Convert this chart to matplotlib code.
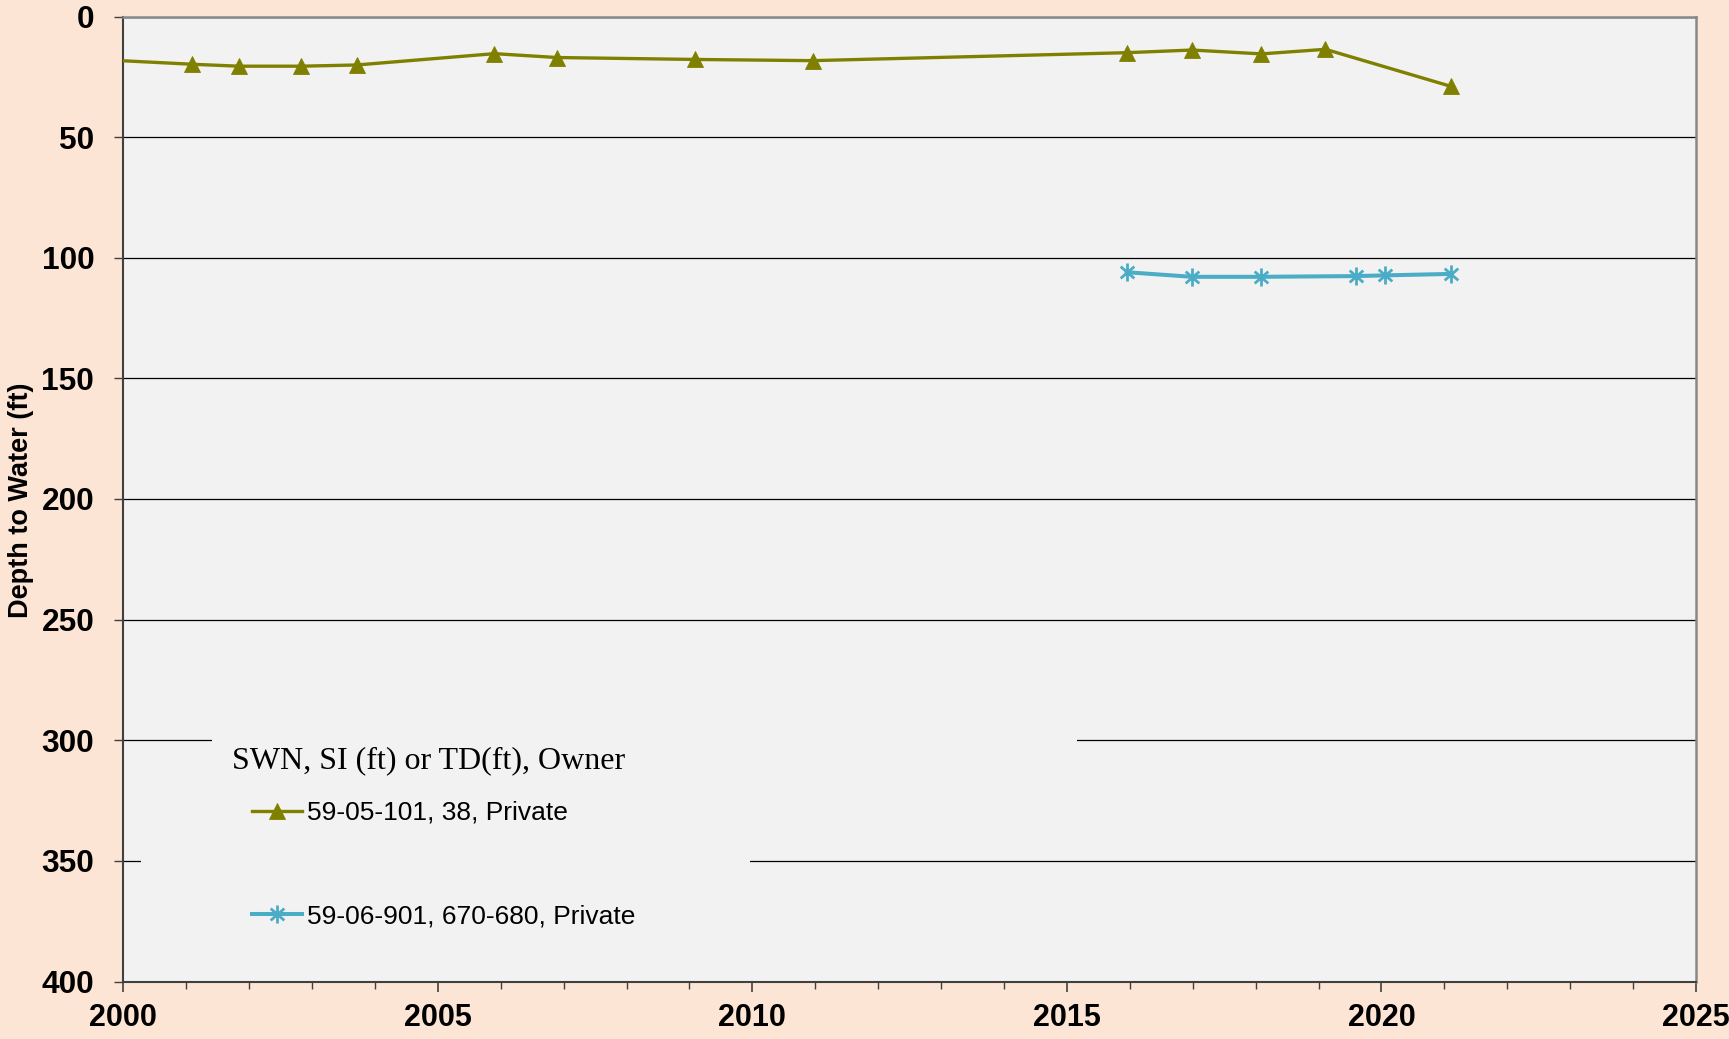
import numpy as np
import matplotlib
matplotlib.use("Agg")
import matplotlib.pyplot as plt
from matplotlib.path import Path
from matplotlib.patches import Rectangle
from matplotlib.ticker import MultipleLocator

# ---- data ----
years_101 = [1999.2, 2001.1, 2001.84, 2002.82, 2003.71, 2005.9, 2006.89, 2009.08,
             2010.96, 2015.95, 2016.99, 2018.09, 2019.11, 2021.11]
depth_101 = [17.3, 19.8, 20.6, 20.6, 20.1, 15.4, 17.0, 17.8,
             18.3, 15.0, 13.9, 15.5, 13.6, 29.0]

years_901 = [2015.95, 2016.99, 2018.08, 2019.59, 2020.06, 2021.1]
depth_901 = [106.0, 107.9, 107.9, 107.6, 107.3, 106.7]

label_101 = "59-05-101, 38, Private"
label_901 = "59-06-901, 670-680, Private"
legend_title = "SWN, SI (ft) or TD(ft), Owner"
ylabel = "Depth to Water (ft)"
x_ticks = [2000, 2005, 2010, 2015, 2020, 2025]
y_ticks = [0, 50, 100, 150, 200, 250, 300, 350, 400]

# ---- style ----
BG = "#FCE5D4"
FACE = "#F2F2F2"
OLIVE = "#808000"
CYAN = "#4BACC6"
SANS = ["Liberation Sans", "DejaVu Sans"]
SERIF = ["Liberation Serif", "DejaVu Serif"]
plt.rcParams["font.family"] = SANS

W, H = 1729, 1039
fig = plt.figure(figsize=(W / 100, H / 100), dpi=100, facecolor=BG)
left, right, top, bottom = 123.3, 1696, 16.5, 981.5
ax = fig.add_axes([left / W, 1 - bottom / H, (right - left) / W, (bottom - top) / H])
ax.set_facecolor(FACE)

# asterisk marker (vertical stroke + wide X)
a = np.deg2rad(41)
ast = Path([(0, -1), (0, 1), (-np.cos(a), -np.sin(a)), (np.cos(a), np.sin(a)),
            (-np.cos(a), np.sin(a)), (np.cos(a), -np.sin(a))],
           [Path.MOVETO, Path.LINETO] * 3)

l1, = ax.plot(years_101, depth_101, color=OLIVE, lw=2.4, marker="^", ms=11,
              mfc=OLIVE, mec=OLIVE, mew=0.6, zorder=3, label=label_101)
l2, = ax.plot(years_901, depth_901, color=CYAN, lw=2.9, marker=ast, ms=13,
              mfc="none", mec=CYAN, mew=2.0, zorder=3, label=label_901)

ax.set_xlim(2000, 2025)
ax.set_ylim(400, 0)
ax.set_xticks(x_ticks, labels=[str(v) for v in x_ticks], fontweight="bold", fontsize=22)
ax.xaxis.set_minor_locator(MultipleLocator(1))
ax.set_yticks(y_ticks, labels=[str(v) for v in y_ticks], fontweight="bold", fontsize=22.8)

ax.yaxis.grid(True, color="black", lw=0.9)
ax.set_axisbelow(True)

for s in ("left", "bottom"):
    ax.spines[s].set_color("#404040")
    ax.spines[s].set_linewidth(1.5)
for s in ("top", "right"):
    ax.spines[s].set_color("#888888")
    ax.spines[s].set_linewidth(1.8)

ax.tick_params(axis="y", which="major", direction="out", length=6.5, width=1.0,
               color="#404040", pad=14.5)
ax.tick_params(axis="x", which="major", direction="out", length=7.2, width=1.2,
               color="#404040", pad=8.2)
ax.tick_params(axis="x", which="minor", direction="out", length=4.8, width=1.0,
               color="#404040")

ax.set_ylabel(ylabel, fontfamily=SANS, fontweight="bold", fontsize=19.5,
              va="center", ha="center")
ax.yaxis.set_label_coords(21.5 / W, 1 - 500 / H, transform=fig.transFigure)

# background boxes behind the legend (hide gridlines)
ax.add_patch(Rectangle((0.0562, 0.215), 0.6064 - 0.0562, 0.075, transform=ax.transAxes,
                       facecolor=FACE, edgecolor="none", zorder=1))
ax.add_patch(Rectangle((0.0113, 0.03), 0.3985 - 0.0113, 0.17, transform=ax.transAxes,
                       facecolor=FACE, edgecolor="none", zorder=1))

leg = ax.legend(handles=[l1, l2], title=legend_title, loc="upper left",
                bbox_to_anchor=(219 / W, 1 - 733 / H), bbox_transform=fig.transFigure,
                frameon=False, alignment="left", borderpad=0,
                prop={"family": SANS, "size": 19},
                title_fontproperties={"family": SERIF, "size": 23},
                handlelength=1.9, handletextpad=0.2, labelspacing=3.0)
leg._legend_handle_box.pad = 14
leg._legend_box.sep = 4.5

fig.savefig("out.png", dpi=100, facecolor=BG)
